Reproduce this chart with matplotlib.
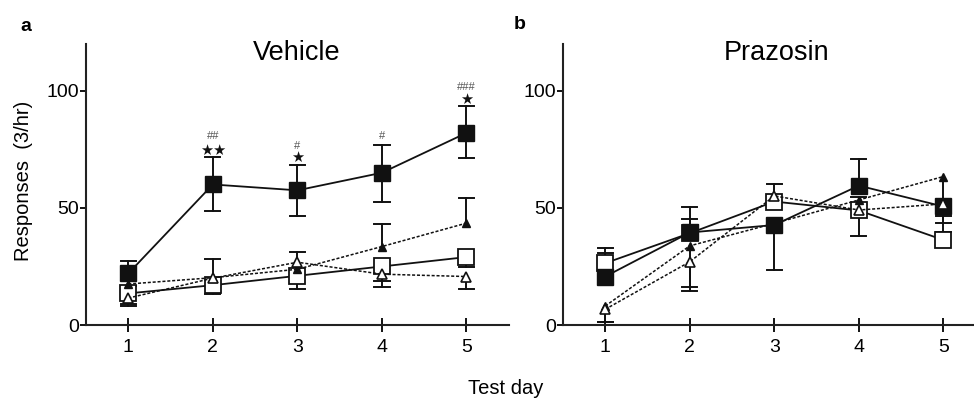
import numpy as np
import matplotlib
matplotlib.use("Agg")
import matplotlib.pyplot as plt

plt.rcParams['font.family'] = ['Liberation Sans', 'DejaVu Sans']

days = [1, 2, 3, 4, 5]

# panel a: Vehicle  (mean, lower error, upper error)
veh_fsq = [22, 60, 57.5, 65, 82]
veh_fsq_lo = [5.5, 11.5, 11, 12.5, 10.6]
veh_fsq_hi = [5.5, 11.7, 11, 12, 11.4]
veh_osq = [13.5, 17, 21, 25, 29]
veh_osq_lo = [5.3, 3.8, 5.7, 8.6, 4.2]
veh_osq_hi = [0, 0, 0, 0, 0]
veh_ftri = [17.5, 20.2, 23.8, 33.5, 43.5]
veh_ftri_lo = [8.5, 0, 0, 0, 0]
veh_ftri_hi = [0, 0, 0, 9.7, 10.8]
veh_otri = [11.5, 20, 26.8, 21.7, 20.7]
veh_otri_lo = [0, 0, 0, 2.7, 5.5]
veh_otri_hi = [0, 8, 4.2, 0, 0]

# panel b: Prazosin
pra_fsq = [20.7, 39.5, 42.7, 59.5, 50.6]
pra_fsq_lo = [0, 0, 19.2, 0, 11]
pra_fsq_hi = [9.9, 11, 0, 11.4, 0]
pra_osq = [26.4, 39.2, 52.7, 48.9, 36.3]
pra_osq_lo = [0, 0, 0, 10.9, 0]
pra_osq_hi = [6.5, 6, 7.4, 0, 0]
pra_ftri = [8.1, 33.8, 43.4, 53.4, 63.4]
pra_ftri_lo = [6.7, 17.7, 0, 0, 17]
pra_ftri_hi = [0, 0, 0, 1.4, 0]
pra_otri = [6.7, 27, 55.1, 49.1, 51.7]
pra_otri_lo = [5.3, 12.3, 0, 0, 8.3]
pra_otri_hi = [0, 0, 0, 0, 0]

# significance marks (day, value, text)
stars_days = [2, 3, 5]
stars_text = ['★★', '★', '★']
stars_y = [74.4, 71.4, 96.2]
hash_days = [2, 3, 4, 5]
hash_text = ['##', '#', '#', '###']
hash_y = [80.8, 76.5, 80.8, 101.7]

K = '#111111'


def err(ax, y, lo, hi):
    x = np.array(days, dtype=float)
    y = np.array(y, dtype=float)
    w = 0.09
    for xi, yi, l, h in zip(x, y, lo, hi):
        for e in (l, -h):
            if e > 0 or e < 0:
                end = yi - e
                ax.plot([xi, xi], [yi, end], color=K, lw=1.4, zorder=2)
                ax.plot([xi - w, xi + w], [end, end], color=K, lw=1.4, zorder=2)


def panel(ax, fsq, osq, ftri, otri, errs):
    ax.plot(days, osq, '-', color=K, lw=1.3, marker='s', ms=11,
            mfc='white', mec=K, mew=1.3, zorder=3)
    ax.plot(days, fsq, '-', color=K, lw=1.3, marker='s', ms=11,
            mfc=K, mec=K, zorder=4)
    ax.plot(days, ftri, color=K, lw=1.1, ls=(0, (2, 1.2)), marker='^', ms=6,
            mfc=K, mec=K, zorder=3)
    ax.plot(days, otri, color=K, lw=1.1, ls=(0, (2, 1.2)), marker='^', ms=7,
            mfc='white', mec=K, mew=1.2, zorder=5)
    for y, lo, hi in errs:
        err(ax, y, lo, hi)
    ax.set_xlim(0.5, 5.5)
    ax.set_ylim(0, 120)
    ax.set_xticks(days)
    ax.set_yticks([0, 50, 100])
    for s in ('top', 'right'):
        ax.spines[s].set_visible(False)
    for s in ('left', 'bottom'):
        ax.spines[s].set_linewidth(1.5)
        ax.spines[s].set_color('#222222')
    ax.tick_params(axis='x', direction='inout', length=10, width=1.3, labelsize=14, pad=5)
    ax.tick_params(axis='y', direction='out', length=4, width=1.3, labelsize=14, pad=1)


fig = plt.figure(figsize=(9.74, 4.05), dpi=100)
ax1 = fig.add_axes([0.0883, 0.1975, 0.434, 0.694])
ax2 = fig.add_axes([0.578, 0.1975, 0.434, 0.694])

panel(ax1, veh_fsq, veh_osq, veh_ftri, veh_otri,
      [(veh_fsq, veh_fsq_lo, veh_fsq_hi), (veh_osq, veh_osq_lo, veh_osq_hi),
       (veh_ftri, veh_ftri_lo, veh_ftri_hi), (veh_otri, veh_otri_lo, veh_otri_hi)])
panel(ax2, pra_fsq, pra_osq, pra_ftri, pra_otri,
      [(pra_fsq, pra_fsq_lo, pra_fsq_hi), (pra_osq, pra_osq_lo, pra_osq_hi),
       (pra_ftri, pra_ftri_lo, pra_ftri_hi), (pra_otri, pra_otri_lo, pra_otri_hi)])

for d, t, y in zip(stars_days, stars_text, stars_y):
    ax1.text(d, y, t, ha='center', va='center', fontsize=10.5, color=K,
             family=['DejaVu Sans'])
for d, t, y in zip(hash_days, hash_text, hash_y):
    ax1.text(d, y, t, ha='center', va='center', fontsize=8, color='#555555')

fig.text(0.305, 0.868, 'Vehicle', ha='center', va='center', fontsize=19.5)
fig.text(0.797, 0.868, 'Prazosin', ha='center', va='center', fontsize=19.5)
fig.text(0.027, 0.935, 'a', ha='center', va='center', fontsize=14, fontweight='bold')
fig.text(0.534, 0.94, 'b', ha='center', va='center', fontsize=14, fontweight='bold')
fig.text(0.024, 0.553, 'Responses  (3/hr)', rotation=90, ha='center', va='center', fontsize=14.5)
fig.text(0.519, 0.04, 'Test day', ha='center', va='center', fontsize=14.5)

fig.savefig('out.png', dpi=100)
